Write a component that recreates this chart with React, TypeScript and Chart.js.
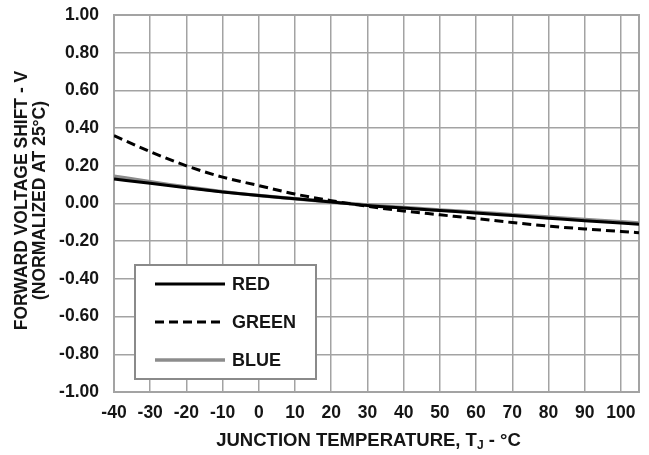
import React, { useEffect, useRef } from 'react';
import { Chart, registerables } from 'chart.js';

Chart.register(...registerables);

const TEMPS = [-40, -30, -20, -10, 0, 10, 20, 30, 40, 50, 60, 70, 80, 90, 100, 105];
const RED = [0.13, 0.107, 0.083, 0.061, 0.042, 0.025, 0.008, -0.01, -0.024, -0.037, -0.05, -0.064, -0.078, -0.092, -0.104, -0.11];
const GREEN = [0.36, 0.275, 0.2, 0.14, 0.095, 0.05, 0.015, -0.015, -0.04, -0.06, -0.08, -0.101, -0.12, -0.135, -0.148, -0.155];
const BLUE = [0.145, 0.115, 0.087, 0.063, 0.043, 0.025, 0.008, -0.008, -0.021, -0.034, -0.046, -0.059, -0.072, -0.085, -0.097, -0.103];
const SERIES_NAMES = ['RED', 'GREEN', 'BLUE'];
const Y_TITLE = ['FORWARD VOLTAGE SHIFT - V', '(NORMALIZED AT 25°C)'];
const X_TITLE = ['JUNCTION TEMPERATURE, T', 'J', ' - °C'];

const FONT = "'Liberation Sans', Arial, sans-serif";
const FS = 17.5;
const GRID = '#a3a3a3';
const INK = '#151515';

const toPts = (ys: number[]) => TEMPS.map((x, i) => ({ x, y: ys[i] }));

const framePlugin = {
  id: 'frame',
  beforeDatasetsDraw(chart: any) {
    const { ctx, chartArea: a } = chart;
    ctx.save();
    ctx.strokeStyle = GRID;
    ctx.lineWidth = 2;
    ctx.strokeRect(a.left, a.top, a.right - a.left, a.bottom - a.top);
    ctx.restore();
  },
  afterDraw(chart: any) {
    const { ctx, chartArea: a } = chart;
    ctx.save();
    // Legend box
    const lx = a.left + 21;
    const ly = a.top + 250;
    const lw = 181;
    const lh = 114;
    ctx.fillStyle = '#fff';
    ctx.fillRect(lx, ly, lw, lh);
    ctx.strokeStyle = '#8a8a8a';
    ctx.lineWidth = 2;
    ctx.strokeRect(lx, ly, lw, lh);
    chart.data.datasets.forEach((ds: any, i: number) => {
      const y = ly + 19 + i * 38;
      ctx.beginPath();
      ctx.strokeStyle = ds.borderColor;
      ctx.lineWidth = ds.borderWidth;
      ctx.setLineDash(ds.borderDash || []);
      ctx.moveTo(lx + 20, y);
      ctx.lineTo(lx + 90, y);
      ctx.stroke();
      ctx.setLineDash([]);
      ctx.fillStyle = INK;
      ctx.font = `bold 18px ${FONT}`;
      ctx.textBaseline = 'middle';
      ctx.textAlign = 'left';
      ctx.fillText(ds.label, lx + 97, y + 1);
    });

    // Y title
    ctx.fillStyle = INK;
    ctx.font = `bold 17.5px ${FONT}`;
    ctx.textAlign = 'center';
    ctx.textBaseline = 'middle';
    const cy = (a.top + a.bottom) / 2 - 3;
    ctx.save();
    ctx.translate(22, cy);
    ctx.rotate(-Math.PI / 2);
    ctx.fillText(Y_TITLE[0], 0, 0);
    ctx.restore();
    ctx.save();
    ctx.translate(40.5, cy);
    ctx.rotate(-Math.PI / 2);
    ctx.fillText(Y_TITLE[1], 0, 0);
    ctx.restore();

    // X title with subscript
    const big = `bold 18.5px ${FONT}`;
    const small = `bold 12px ${FONT}`;
    ctx.textAlign = 'left';
    ctx.textBaseline = 'alphabetic';
    ctx.font = big;
    const w0 = ctx.measureText(X_TITLE[0]).width;
    const w2 = ctx.measureText(X_TITLE[2]).width;
    ctx.font = small;
    const w1 = ctx.measureText(X_TITLE[1]).width;
    const total = w0 + w1 + w2;
    const cx = (a.left + a.right) / 2 - 8;
    let x = cx - total / 2;
    const base = 446;
    ctx.font = big;
    ctx.fillText(X_TITLE[0], x, base);
    x += w0;
    ctx.font = small;
    ctx.fillText(X_TITLE[1], x, base + 3);
    x += w1;
    ctx.font = big;
    ctx.fillText(X_TITLE[2], x, base);
    ctx.restore();
  },
};

export default function App() {
  const ref = useRef<HTMLCanvasElement>(null);
  useEffect(() => {
    if (!ref.current) return;
    const chart = new Chart(ref.current, {
      type: 'line',
      data: {
        datasets: [
          { label: SERIES_NAMES[0], data: toPts(RED), borderColor: '#000000', borderWidth: 3, pointRadius: 0, cubicInterpolationMode: 'monotone', fill: false },
          { label: SERIES_NAMES[1], data: toPts(GREEN), borderColor: '#000000', borderWidth: 3, borderDash: [9, 5], pointRadius: 0, cubicInterpolationMode: 'monotone', fill: false },
          { label: SERIES_NAMES[2], data: toPts(BLUE), borderColor: '#8c8c8c', borderWidth: 3.5, pointRadius: 0, cubicInterpolationMode: 'monotone', fill: false },
        ] as any,
      },
      options: {
        animation: false,
        responsive: false,
        maintainAspectRatio: false,
        layout: { padding: { top: 15, right: 10, left: 0, bottom: 0 } },
        plugins: { legend: { display: false }, tooltip: { enabled: false } },
        scales: {
          x: {
            type: 'linear',
            min: -40,
            max: 105,
            border: { display: false },
            grid: { color: GRID, lineWidth: 1.5, drawTicks: false },
            ticks: {
              stepSize: 10,
              includeBounds: false,
              autoSkip: false,
              maxRotation: 0,
              padding: 11,
              color: INK,
              font: { family: FONT, size: FS, weight: 'bold' },
            },
            afterFit: (s: any) => { s.height = 63; s.paddingLeft = 0; s.paddingRight = 0; },
          },
          y: {
            min: -1,
            max: 1,
            border: { display: false },
            grid: { color: GRID, lineWidth: 1.5, drawTicks: false },
            ticks: {
              stepSize: 0.2,
              padding: 15,
              color: INK,
              font: { family: FONT, size: FS, weight: 'bold' },
              callback: (v: any) => Number(v).toFixed(2),
            },
            afterFit: (s: any) => { s.width = 114; s.paddingTop = 0; s.paddingBottom = 0; },
          },
        },
      } as any,
      plugins: [framePlugin],
    });
    return () => chart.destroy();
  }, []);
  return (
    <div style={{ position: 'fixed', left: 0, top: 0, width: 649, height: 455, background: '#fff' }}>
      <canvas ref={ref} width={649} height={455} />
    </div>
  );
}
